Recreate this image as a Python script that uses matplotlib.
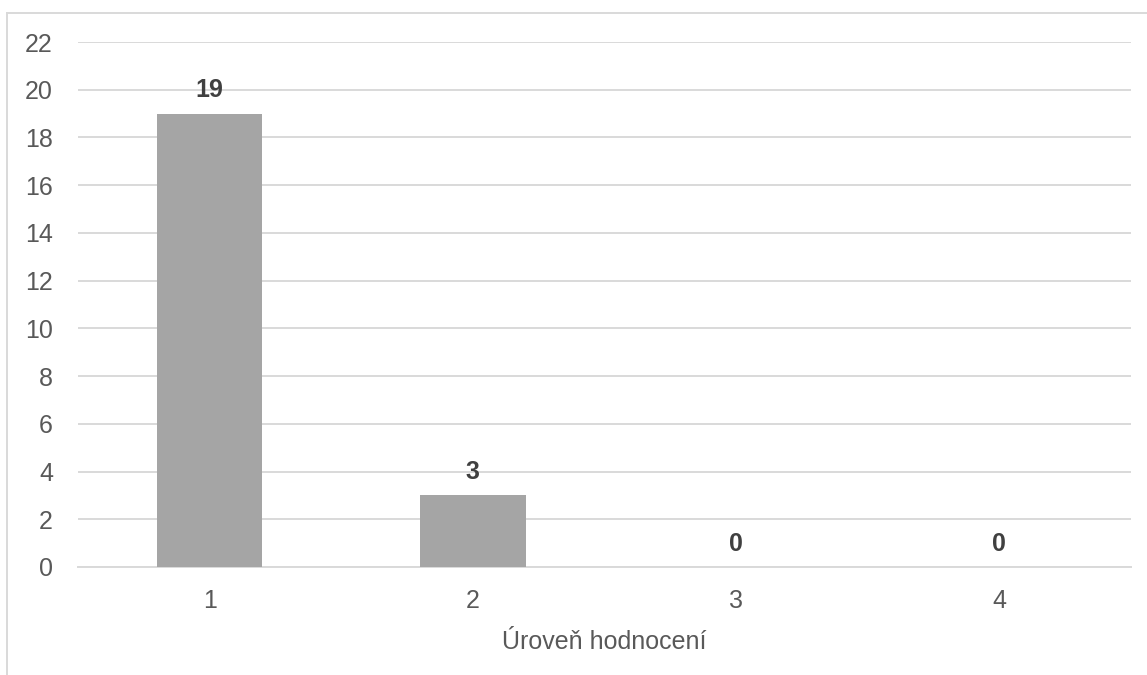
import matplotlib
matplotlib.use("Agg")
import matplotlib.pyplot as plt
from matplotlib.lines import Line2D

plt.rcParams['font.family'] = ['Liberation Sans', 'DejaVu Sans']

categories = ["1", "2", "3", "4"]
counts = [19, 3, 0, 0]
y_ticks = list(range(0, 23, 2))
x_label = "Úroveň hodnocení"

fig = plt.figure(figsize=(11.47, 6.75), dpi=100)
ax = fig.add_axes([78 / 1147, 108 / 675, (1131 - 78) / 1147, (567 - 42) / 675])

x = list(range(len(categories)))
bars = ax.bar(x, counts, width=0.4, color="#a5a5a5", zorder=3)

ax.set_xlim(-0.5, len(categories) - 0.5)
ax.set_ylim(0, 22)
ax.set_yticks(y_ticks)
ax.set_xticks(x)
ax.set_xticklabels(categories)
ax.yaxis.grid(True, color="#d9d9d9", linewidth=1.4, zorder=0)
ax.set_axisbelow(True)
for s in ["top", "right", "left"]:
    ax.spines[s].set_visible(False)
ax.spines["bottom"].set_color("#d9d9d9")
ax.spines["bottom"].set_linewidth(1.4)
ax.tick_params(axis="both", length=0, labelsize=18, labelcolor="#595959")
ax.tick_params(axis="y", pad=18)
ax.tick_params(axis="x", pad=16)
ax.set_xlabel(x_label, fontsize=18, color="#595959", labelpad=12)

for xi, v in zip(x, counts):
    ax.annotate(str(v), (xi, v), xytext=(0, 8), textcoords="offset points",
                ha="center", va="bottom", fontsize=18, fontweight="bold",
                color="#404040")

# chart frame
fig.add_artist(Line2D([7 / 1147, 7 / 1147], [0, 1 - 13 / 675],
                      transform=fig.transFigure, color="#d9d9d9", linewidth=1.4))
fig.add_artist(Line2D([7 / 1147, 1], [1 - 13 / 675, 1 - 13 / 675],
                      transform=fig.transFigure, color="#d9d9d9", linewidth=1.4))

fig.savefig("out.png", dpi=100)
